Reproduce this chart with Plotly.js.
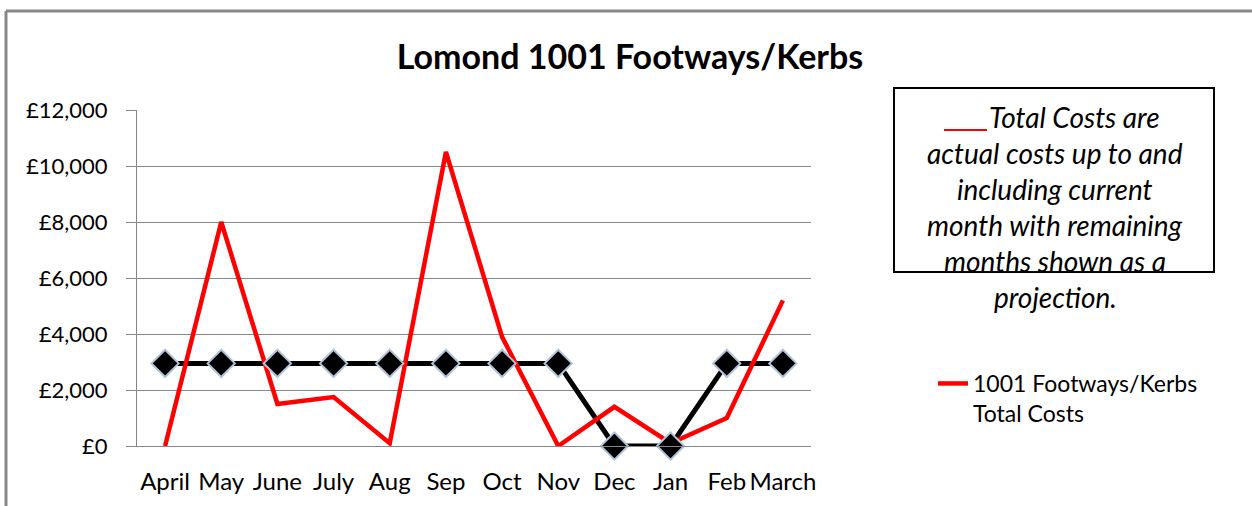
<!DOCTYPE html>
<html>
<head>
<meta charset="utf-8">
<script src="https://cdn.plot.ly/plotly-3.0.1.min.js"></script>
<style>html,body{margin:0;padding:0;background:#fff;}#chart{width:1252px;height:506px;}</style>
</head>
<body>
<div id="chart"></div>
<script>
var months = ["April","May","June","July","Aug","Sep","Oct","Nov","Dec","Jan","Feb","March"];
var totalCosts = [0, 8000, 1500, 1750, 100, 10500, 3900, 0, 1400, 100, 1000, 5200];
var budget = [2950, 2950, 2950, 2950, 2950, 2950, 2950, 2950, 0, 0, 2950, 2950];
var yTickVals = [0, 2000, 4000, 6000, 8000, 10000, 12000];
var yTickText = ["£0","£2,000","£4,000","£6,000","£8,000","£10,000","£12,000"];
var seriesName = "1001 Footways/Kerbs<br>Total Costs";
var chartTitle = "Lomond 1001 Footways/Kerbs";
var noteFirst = "Total Costs are";
var noteLines = ["actual costs up to and", "including current", "month with remaining", "months shown as a", "projection."];

var W = 1252, H = 506;
var L = 137, R = 811, T = 110, B = 446;
function px(x){ return (x - L) / (R - L); }
function py(y){ return (B - y) / (B - T); }

var font = "Lato, 'Open Sans', sans-serif";
var noteFont = {family: font, size: 28, color: "#000000", style: "italic"};

var traces = [
  {x: months, y: budget, type: "scatter", mode: "lines", line: {color: "#000000", width: 5}, showlegend: false, hoverinfo: "skip"},
  {x: months, y: totalCosts, type: "scatter", mode: "lines", name: seriesName, line: {color: "#ff0000", width: 4.5}},
  {x: months, y: budget, type: "scatter", mode: "markers", marker: {symbol: "diamond", size: 21, color: "#000000", line: {color: "#b3c3da", width: 2}}, showlegend: false, cliponaxis: false}
];

var annotations = [
  {xref: "paper", yref: "paper", x: px(987), y: py(117), xanchor: "left", yanchor: "middle", text: noteFirst, showarrow: false, font: noteFont}
];
var lineY = [153, 189, 225, 261, 297];
for (var i = 0; i < noteLines.length; i++) {
  annotations.push({xref: "paper", yref: "paper", x: px(1055), y: py(lineY[i]), xanchor: "center", yanchor: "middle", text: noteLines[i], showarrow: false, font: noteFont});
}

var layout = {
  width: W, height: H,
  margin: {l: L, r: W - R, t: T, b: H - B, pad: 0},
  paper_bgcolor: "#ffffff", plot_bgcolor: "#ffffff",
  title: {text: chartTitle, xref: "container", yref: "container", x: 630 / W, xanchor: "center", y: 1 - 57 / H, yanchor: "middle", font: {family: font, size: 34, color: "#000000", weight: "bold"}},
  xaxis: {type: "category", showgrid: false, zeroline: false, showline: true, linecolor: "#868686", linewidth: 1, ticks: "", tickfont: {family: font, size: 24, color: "#000000"}, ticklabelstandoff: 14, range: [-0.5, 11.5], fixedrange: true},
  yaxis: {range: [0, 12000], tickvals: yTickVals, ticktext: yTickText, showgrid: true, gridcolor: "#868686", gridwidth: 1, zeroline: false, showline: true, linecolor: "#868686", linewidth: 1, ticks: "outside", ticklen: 10, tickcolor: "#868686", tickfont: {family: font, size: 22, color: "#000000"}, ticklabelstandoff: 14, fixedrange: true},
  showlegend: true,
  legend: {x: px(933), y: py(362), xanchor: "left", yanchor: "top", valign: "top", font: {family: font, size: 23, color: "#000000"}, bgcolor: "rgba(0,0,0,0)", borderwidth: 0},
  annotations: annotations,
  shapes: [
    {type: "rect", xref: "paper", yref: "paper", x0: px(894), x1: px(1214), y0: py(272), y1: py(88), line: {color: "#000000", width: 2}, fillcolor: "rgba(0,0,0,0)"},
    {type: "line", xref: "paper", yref: "paper", x0: px(944), x1: px(987), y0: py(130), y1: py(130), line: {color: "#ff0000", width: 2}},
    {type: "line", xref: "paper", yref: "paper", x0: px(6), x1: px(1252), y0: py(11), y1: py(11), line: {color: "#888888", width: 3}},
    {type: "line", xref: "paper", yref: "paper", x0: px(6), x1: px(6), y0: py(11), y1: py(506), line: {color: "#888888", width: 3}}
  ]
};

Plotly.newPlot("chart", traces, layout, {displayModeBar: false, staticPlot: true});
</script>
</body>
</html>
